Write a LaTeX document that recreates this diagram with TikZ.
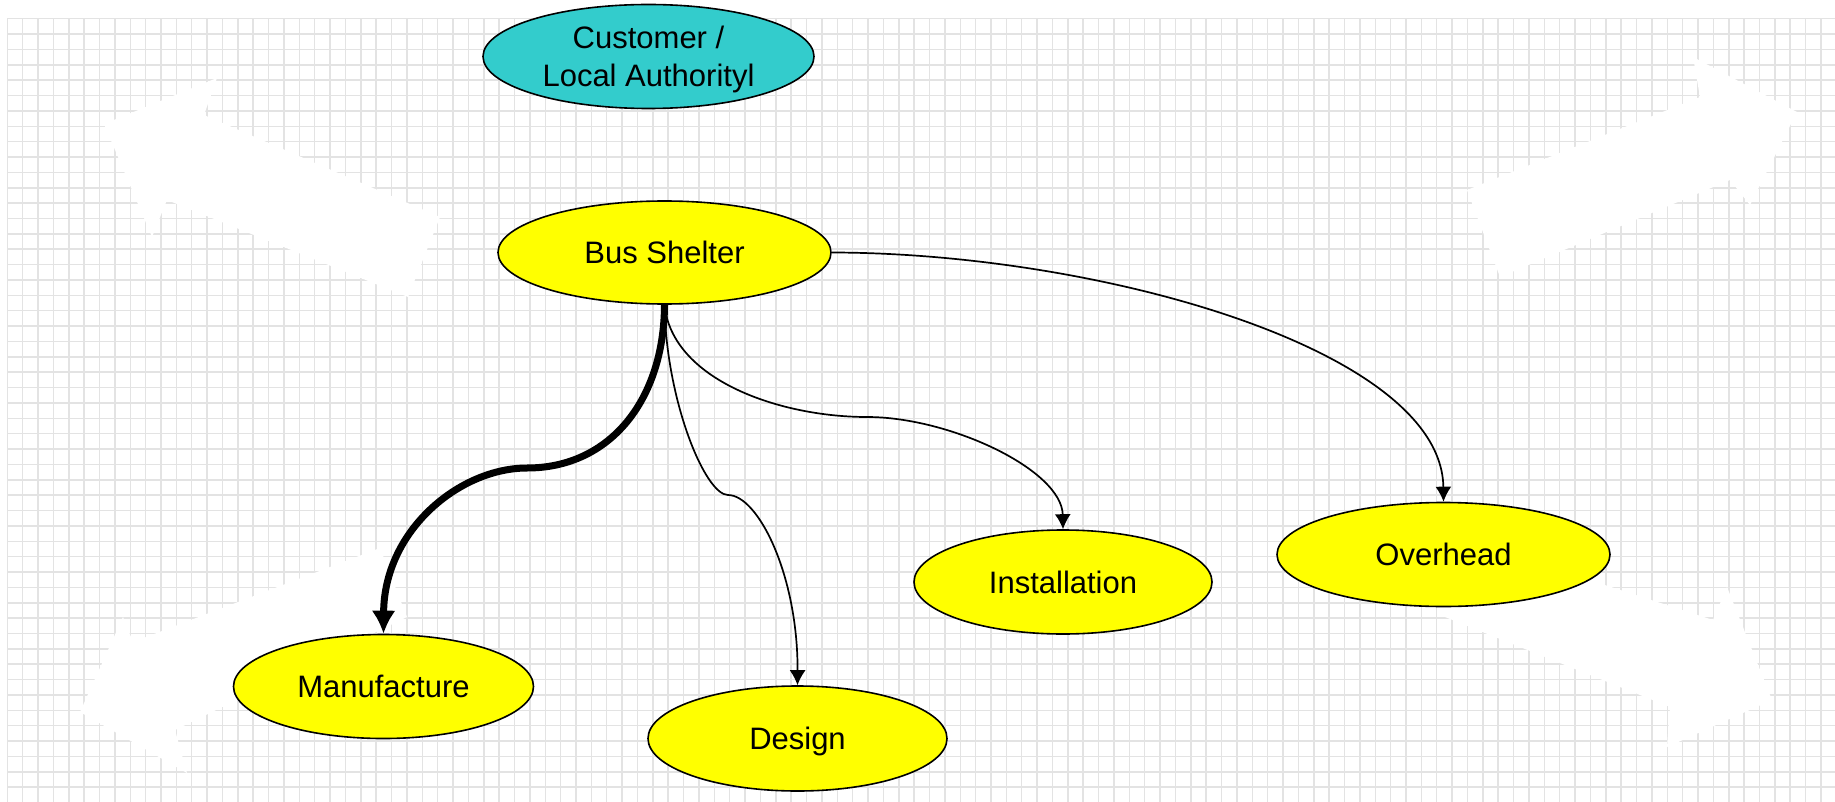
\documentclass[tikz,border=0pt]{standalone}
\usepackage{fontspec}
\setmainfont{Liberation Sans}
\usetikzlibrary{shapes.geometric,arrows.meta}
\definecolor{gridgray}{RGB}{227,227,227}
\definecolor{custteal}{RGB}{51,204,204}
\definecolor{nodeyellow}{RGB}{255,255,0}

\begin{document}
\begin{tikzpicture}[x=1pt,y=-1pt,
  gridline/.style={draw=gridgray, line width=1.5pt},
  blank/.style={fill=white, draw=none},
  bubble/.style={ellipse, draw=black, line width=1.6pt, inner sep=0pt,
    fill=nodeyellow, font=\fontsize{31}{38}\selectfont, align=center,
    text depth=0pt},
  thinlink/.style={draw=black, line width=1.7pt, -{Latex[length=15pt,width=16pt]}},
  thicklink/.style={draw=black, line width=7pt, -{Latex[length=23pt,width=24pt]}}
]
\useasboundingbox (0,0) rectangle (1835,802);
\fill[white] (0,0) rectangle (1835,802);

% squared paper
\foreach \i in {0,...,118}
  \draw[gridline] ({7.3+15.37*\i},18.7) -- ({7.3+15.37*\i},802);
\foreach \j in {0,...,50}
  \draw[gridline] (7.3,{18.7+15.37*\j}) -- (1835,{18.7+15.37*\j});

% white block arrows in the four corners
\fill[blank] (104,124) -- (217,78) -- (204,115) -- (440,217)
  -- (408,297) -- (167,200) -- (152,237) -- cycle;
\fill[blank] (1797,112) -- (1693,57) -- (1700,97) -- (1467,190)
  -- (1500,277) -- (1730,180) -- (1750,205) -- cycle;
\fill[blank] (80,712) -- (123,617) -- (133,642) -- (380,548)
  -- (407,617) -- (175,730) -- (187,773) -- cycle;
\fill[blank] (1772,700) -- (1727,587) -- (1713,620) -- (1438,531)
  -- (1445,617) -- (1670,707) -- (1667,747) -- cycle;

% nodes
\node[bubble, fill=custteal, minimum width=331pt, minimum height=104pt]
  (cust) at (648.5,56.5) {Customer /\\Local Authorityl};
\node[bubble, minimum width=333pt, minimum height=103pt]
  (bus) at (664.5,252.5) {Bus Shelter};
\node[bubble, minimum width=300pt, minimum height=104pt]
  (man) at (383.5,686.5) {Manufacture};
\node[bubble, minimum width=299pt, minimum height=105pt]
  (des) at (797.5,738.5) {Design};
\node[bubble, minimum width=298pt, minimum height=104pt]
  (inst) at (1063,582) {Installation};
\node[bubble, minimum width=333pt, minimum height=104pt]
  (over) at (1443.5,554.5) {Overhead};

% connectors
\draw[thicklink] (bus.south) .. controls (664,400) and (610,468) .. (527,468)
  .. controls (460,468) and (384,530) .. (man.north);
\draw[thinlink] (bus.south) .. controls (666,400) and (705,495) .. (728,495)
  .. controls (758,495) and (798,575) .. (des.north);
\draw[thinlink] (bus.south) .. controls (672,380) and (780,417) .. (867,417)
  .. controls (950,417) and (1062,470) .. (inst.north);
\draw[thinlink] (bus.east) .. controls (1100,253) and (1442,350) .. (over.north);
\end{tikzpicture}
\end{document}
